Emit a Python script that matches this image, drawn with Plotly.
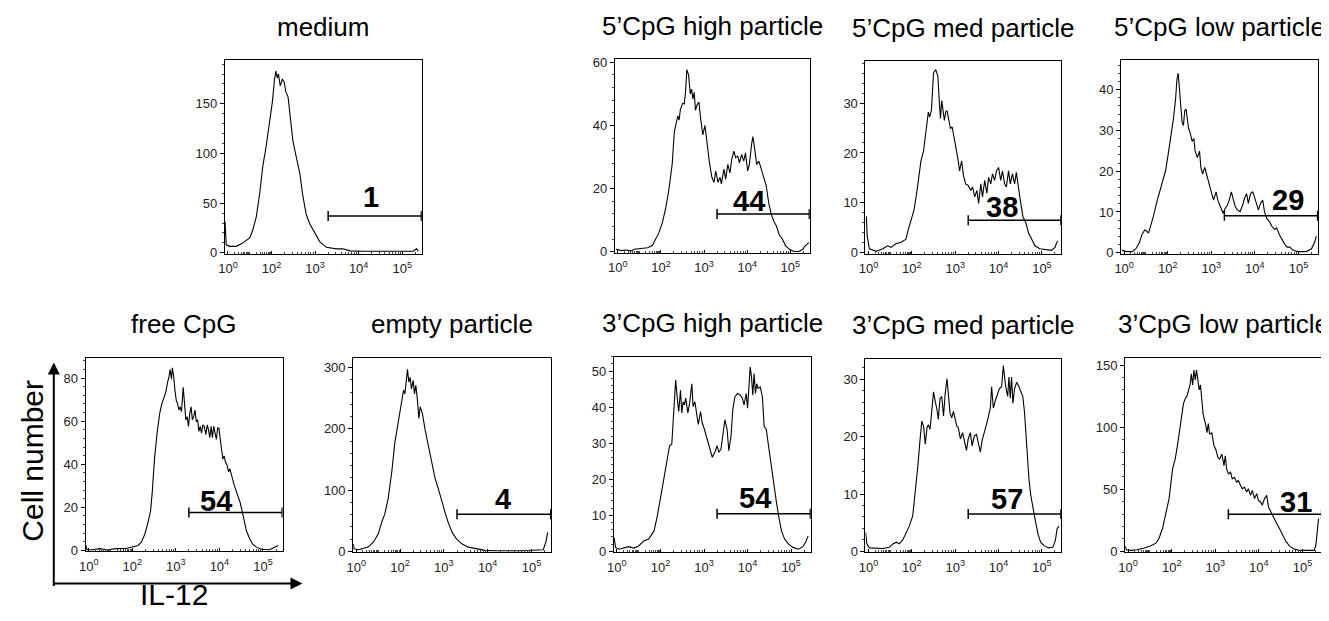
import math
import plotly.graph_objects as go

# ---------------- data (x in display-channel units of the logicle-like axis:
# 0 = 10^0, 1 = 10^2, 2 = 10^3, 3 = 10^4, 4 = 10^5) ----------------
titles = ["medium", "5’CpG high particle", "5’CpG med particle", "5’CpG low particle",
          "free CpG", "empty particle", "3’CpG high particle", "3’CpG med particle",
          "3’CpG low particle"]
gate_pct = ["1", "44", "38", "29", "54", "4", "54", "57", "31"]
gate_level = [37, 12, 6.5, 9.1, 17.6, 60.5, 10.4, 6.5, 29.8]
gate_start = [2.3, 2.3, 2.3, 2.3, 2.3, 2.3, 2.3, 2.3, 2.3]
label_x = [3.29, 3.05, 3.08, 3.76, 2.93, 3.36, 3.18, 3.2, 3.85]
x_tick_pos = [0, 1, 2, 3, 4]
x_tick_text = ["10<sup>0</sup>", "10<sup>2</sup>", "10<sup>3</sup>", "10<sup>4</sup>", "10<sup>5</sup>"]
y_top = [194, 61, 38.4, 47.2, 89.5, 316, 54, 33.6, 156]
y_dtick = [50, 20, 10, 10, 20, 100, 10, 10, 50]

medium_x = [-0.065, -0.04, 0.04, 0.19, 0.31, 0.42, 0.5, 0.57, 0.65, 0.73, 0.8, 0.88, 0.96, 1.02, 1.07, 1.1,
            1.13, 1.16, 1.2, 1.25, 1.29, 1.33, 1.38, 1.43, 1.49, 1.57, 1.65, 1.72, 1.8, 1.88, 1.99, 2.11,
            2.26, 2.49, 2.64, 2.8, 3.1, 3.87, 4.25, 4.33, 4.37]
medium_y = [31, 8, 6.5, 6.5, 9, 13, 15, 23, 36, 60, 87, 108, 131, 152, 175, 183, 176, 180, 168, 175, 172,
            162, 157, 136, 113, 96, 80, 57, 38, 29, 20, 11, 5.5, 4, 4, 2, 1.5, 1, 1.5, 4, 1.5]

h5_x = [-0.04, 0, 0.08, 0.19, 0.31, 0.38, 0.53, 0.69, 0.8, 0.88, 0.95, 1.03, 1.11, 1.18, 1.26, 1.31, 1.36,
        1.39, 1.42, 1.45, 1.5, 1.54, 1.57, 1.6, 1.64, 1.68, 1.71, 1.74, 1.77, 1.8, 1.83, 1.88, 1.92, 1.97,
        2.02, 2.06, 2.12, 2.18, 2.23, 2.27, 2.32, 2.37, 2.4, 2.46, 2.5, 2.55, 2.6, 2.64, 2.69, 2.73, 2.78,
        2.82, 2.87, 2.92, 2.96, 3.01, 3.05, 3.1, 3.13, 3.18, 3.22, 3.27, 3.31, 3.37, 3.44, 3.5, 3.56, 3.62,
        3.68, 3.74, 3.82, 3.89, 3.98, 4.08, 4.2, 4.29, 4.35, 4.43]
h5_y = [0.8, 0.6, 0.4, 0.6, 0.3, 0.8, 1, 1.3, 2, 3.9, 6, 9.1, 13.8, 19.4, 27.7, 38, 41, 43, 41.7, 45, 47,
        46.8, 50.5, 57.7, 56, 50, 51.5, 48.4, 50.5, 44.8, 46.3, 47.4, 42.2, 37, 40, 35, 28.7, 23.6, 22,
        25.6, 22, 23.6, 21.5, 26.2, 23, 27.7, 25, 29.3, 31.9, 29.8, 30.3, 28.2, 30.8, 28.7, 31.3, 25.6,
        27.7, 33.9, 36.5, 31.9, 27.7, 28.7, 26.7, 24.6, 21, 15.3, 11.7, 9.6, 8.1, 5.5, 3.9, 1.9, 0.8, 0.1,
        0.1, 0.8, 2, 2.9]

m5_x = [-0.05, -0.03, 0.02, 0.18, 0.33, 0.44, 0.52, 0.63, 0.75, 0.86, 0.92, 0.98, 1.05, 1.11, 1.17, 1.21,
        1.27, 1.31, 1.35, 1.38, 1.41, 1.45, 1.47, 1.5, 1.55, 1.6, 1.63, 1.66, 1.69, 1.72, 1.75, 1.78, 1.81,
        1.84, 1.89, 1.93, 1.98, 2.02, 2.07, 2.1, 2.15, 2.19, 2.24, 2.3, 2.36, 2.4, 2.45, 2.5, 2.54, 2.59,
        2.63, 2.68, 2.73, 2.77, 2.82, 2.86, 2.91, 2.95, 3.0, 3.05, 3.09, 3.14, 3.18, 3.23, 3.27, 3.32, 3.37,
        3.41, 3.46, 3.5, 3.56, 3.63, 3.69, 3.76, 3.84, 3.95, 4.07, 4.22, 4.3, 4.36]
m5_y = [7.3, 3.4, 0.8, 0.3, 0.8, 1.4, 1.1, 1.8, 2.1, 2.7, 4.7, 6.3, 8.6, 11.9, 15.8, 18.4, 20.4, 23, 25.6,
        28.2, 27.2, 28.5, 31.4, 36, 36.7, 35.4, 30.8, 26.9, 30.5, 28.8, 26.5, 28.2, 28.5, 27.2, 24.9, 25.2,
        23, 21.3, 18.4, 16.4, 18.4, 15.5, 13.8, 13.5, 12.5, 13.2, 11.2, 12.5, 9.9, 13.8, 11.2, 14.5, 11.9,
        15.1, 13.8, 15.8, 14.5, 16.4, 17.1, 14.5, 16.4, 13.8, 13.2, 16.4, 13.8, 15.8, 13.8, 16.1, 12.5,
        10.6, 7.3, 6, 4, 2.7, 1.4, 0.8, 0.7, 0.5, 1.1, 2.4]

l5_x = [-0.05, 0.06, 0.18, 0.27, 0.35, 0.41, 0.47, 0.52, 0.56, 0.61, 0.67, 0.75, 0.82, 0.89, 0.95, 1.01,
        1.07, 1.13, 1.18, 1.21, 1.24, 1.27, 1.3, 1.33, 1.36, 1.39, 1.42, 1.45, 1.48, 1.51, 1.56, 1.6, 1.63,
        1.68, 1.73, 1.76, 1.8, 1.85, 1.89, 1.95, 2.0, 2.05, 2.11, 2.15, 2.21, 2.27, 2.32, 2.37, 2.41, 2.46,
        2.5, 2.55, 2.6, 2.66, 2.72, 2.76, 2.81, 2.85, 2.9, 2.95, 2.99, 3.04, 3.08, 3.13, 3.18, 3.22, 3.27,
        3.33, 3.39, 3.45, 3.5, 3.56, 3.62, 3.68, 3.74, 3.8, 3.88, 3.99, 4.18, 4.3, 4.37, 4.41]
l5_y = [0.6, 0.3, 0.3, 1, 2.5, 4.5, 5.6, 5.3, 4.8, 6.5, 8.9, 12.5, 15.3, 17.7, 20.1, 24.1, 28, 32.8, 37.6,
        42.4, 44, 40, 35.2, 32, 31.2, 34.8, 35.2, 32.8, 30.4, 29.6, 27.3, 28, 24.9, 23.3, 24.9, 20.9, 19.3,
        20.9, 19.3, 16.9, 14.5, 12.9, 14.9, 12.9, 11.3, 9.7, 10.9, 11.7, 12.9, 14.9, 13.3, 11.3, 10.5, 10.1,
        11.7, 13.3, 14.5, 12.1, 14.5, 14.9, 13.7, 12.1, 10.5, 12.1, 12.9, 10.1, 8.5, 7.7, 6.5, 5.7, 6.1,
        4.5, 3.3, 2.2, 1.4, 1.4, 0.6, 0.3, 0.3, 1, 2.5, 4.1]

free_x = [-0.065, -0.04, 0.1, 0.25, 0.41, 0.64, 0.86, 1.02, 1.13, 1.21, 1.29, 1.36, 1.42, 1.46, 1.51, 1.57,
          1.63, 1.68, 1.72, 1.77, 1.81, 1.84, 1.87, 1.9, 1.92, 1.95, 1.98, 2.01, 2.04, 2.07, 2.1, 2.13, 2.17,
          2.2, 2.23, 2.26, 2.29, 2.32, 2.35, 2.38, 2.41, 2.44, 2.47, 2.5, 2.53, 2.56, 2.59, 2.62, 2.65, 2.69,
          2.72, 2.75, 2.78, 2.81, 2.84, 2.87, 2.9, 2.93, 2.96, 2.99, 3.02, 3.05, 3.08, 3.11, 3.14, 3.18,
          3.21, 3.24, 3.27, 3.3, 3.34, 3.39, 3.44, 3.48, 3.53, 3.57, 3.62, 3.68, 3.76, 3.85, 3.96, 4.15,
          4.27, 4.35]
free_y = [2.3, 0.3, 0.3, 0.8, 0.3, 0.8, 0.9, 1.8, 2.3, 3.8, 7.6, 12.9, 18.2, 27.3, 42.4, 54.5, 63.6, 68.2,
          70.5, 73.5, 78, 80.3, 84, 79.5, 84.8, 81, 74.2, 69.7, 68.2, 65.2, 66.7, 64.4, 75.8, 68.2, 60.6,
          62.1, 57.6, 63.6, 66.7, 60.6, 62.1, 65.2, 59.8, 60.6, 55.3, 57.6, 54.5, 58.3, 57.6, 53.8, 58.3,
          56.1, 52.3, 57.6, 52.3, 57.6, 53.8, 51.5, 56.8, 56.8, 51.5, 47, 42.4, 43.9, 40.9, 39.4, 36.4, 37.9,
          34.8, 33.3, 30.3, 27.3, 24.2, 22, 17.4, 13.6, 9.1, 6.1, 3, 1.5, 0.5, 0.3, 1.5, 2.3]

empty_x = [-0.065, -0.05, 0.05, 0.16, 0.27, 0.39, 0.5, 0.59, 0.65, 0.73, 0.81, 0.88, 0.94, 1.01, 1.05, 1.08,
           1.11, 1.14, 1.17, 1.2, 1.23, 1.26, 1.3, 1.33, 1.36, 1.39, 1.43, 1.46, 1.51, 1.57, 1.65, 1.72, 1.8,
           1.87, 1.95, 2.03, 2.1, 2.19, 2.29, 2.41, 2.56, 2.75, 2.94, 3.17, 3.78, 4.27, 4.33, 4.37]
empty_y = [12, 4, 2.7, 4.3, 6.9, 14.9, 28.2, 49.5, 60.2, 86.8, 129, 177, 204, 231, 247, 263, 257, 273, 297,
           276, 284, 265, 279, 257, 271, 252, 217, 236, 225, 199, 172, 145, 119, 103, 81.5, 62.9, 46.9, 30.9,
           20.2, 12.3, 6.9, 3.7, 1.6, 1, 1, 2.7, 15, 31]

h3_x = [-0.065, -0.03, 0.05, 0.16, 0.27, 0.39, 0.5, 0.62, 0.73, 0.85, 0.92, 1.0, 1.08, 1.15, 1.21, 1.26,
        1.31, 1.35, 1.39, 1.42, 1.46, 1.49, 1.52, 1.55, 1.58, 1.63, 1.67, 1.72, 1.75, 1.79, 1.84, 1.87, 1.92,
        1.96, 2.01, 2.07, 2.13, 2.19, 2.25, 2.3, 2.34, 2.39, 2.44, 2.48, 2.53, 2.57, 2.62, 2.66, 2.71, 2.77,
        2.83, 2.88, 2.92, 2.97, 3.0, 3.03, 3.06, 3.09, 3.12, 3.15, 3.18, 3.21, 3.24, 3.29, 3.34, 3.38, 3.43,
        3.47, 3.53, 3.6, 3.66, 3.72, 3.78, 3.85, 3.94, 4.04, 4.17, 4.27, 4.33, 4.39]
h3_y = [3.8, 1.1, 0.6, 0.9, 1.3, 0.9, 1.5, 2.9, 3.4, 5.6, 9.3, 14.7, 20.2, 25.6, 29.3, 29.7, 38.4, 47.5, 42,
        38.8, 44.7, 38.4, 41.5, 40.6, 42.5, 38.4, 41.1, 46.5, 40.2, 41.5, 37.5, 35.2, 38.8, 35.6, 33.8, 31.1,
        28.4, 26.1, 27.5, 29.3, 27.5, 28.4, 32.9, 36.5, 33.8, 27.9, 32, 39.3, 42.9, 43.8, 43.4, 42.5, 40.6,
        43.8, 39.7, 46.1, 51.1, 48.4, 43.4, 49.3, 43.8, 46.5, 45.2, 45.6, 42.9, 34.7, 33.8, 30.2, 24.7,
        19.3, 13.8, 9.3, 5.6, 3.4, 2, 1.1, 0.6, 1.3, 2.5, 4.3]

m3_x = [-0.065, -0.04, 0.02, 0.18, 0.33, 0.48, 0.56, 0.64, 0.71, 0.79, 0.86, 0.94, 1.02, 1.08, 1.14, 1.19,
        1.23, 1.27, 1.31, 1.35, 1.38, 1.42, 1.46, 1.5, 1.54, 1.58, 1.61, 1.65, 1.69, 1.73, 1.77, 1.81, 1.84,
        1.88, 1.92, 1.96, 2.0, 2.04, 2.07, 2.12, 2.17, 2.21, 2.26, 2.3, 2.35, 2.39, 2.44, 2.49, 2.53, 2.58,
        2.62, 2.67, 2.72, 2.76, 2.81, 2.84, 2.88, 2.93, 2.98, 3.02, 3.07, 3.11, 3.16, 3.21, 3.24, 3.27, 3.3,
        3.33, 3.37, 3.42, 3.47, 3.51, 3.56, 3.6, 3.65, 3.7, 3.74, 3.79, 3.85, 3.91, 3.97, 4.05, 4.15, 4.25,
        4.31, 4.35, 4.39]
m3_y = [3.3, 1.3, 0.6, 0.5, 0.5, 0.7, 1.3, 1.6, 1.3, 2, 3.1, 4.4, 6.2, 10.4, 15, 19.6, 22.7, 21.8, 18.7,
        21.6, 22.1, 21.3, 24.1, 27.8, 26.1, 24.7, 23, 26.7, 27, 23.6, 27.6, 30.1, 27.6, 24.1, 23.3, 24.4, 23,
        21.8, 21.6, 19.6, 20.7, 19.3, 17.6, 19.6, 20.7, 18.4, 20.1, 20.4, 19, 17.3, 19.3, 21, 22.1, 23.3,
        25, 28.7, 25, 26.4, 27.6, 28.4, 28.7, 32.4, 29, 27, 30.4, 26.7, 30.4, 25.8, 28.4, 29.5, 28.7, 27.8,
        27, 24.1, 17.9, 12.7, 9.9, 7.6, 5.3, 3, 1.6, 1, 0.6, 0.7, 1.9, 3.9, 4.4]

l3_x = [-0.065, -0.04, 0.06, 0.21, 0.37, 0.52, 0.64, 0.71, 0.79, 0.86, 0.94, 1.02, 1.08, 1.13, 1.19, 1.23,
        1.27, 1.31, 1.35, 1.38, 1.42, 1.45, 1.48, 1.51, 1.54, 1.57, 1.6, 1.63, 1.66, 1.69, 1.72, 1.75, 1.78,
        1.81, 1.84, 1.87, 1.92, 1.97, 2.01, 2.06, 2.1, 2.15, 2.2, 2.23, 2.26, 2.3, 2.35, 2.39, 2.44, 2.49,
        2.53, 2.58, 2.62, 2.67, 2.72, 2.76, 2.81, 2.85, 2.9, 2.95, 2.99, 3.04, 3.08, 3.13, 3.18, 3.22, 3.27,
        3.33, 3.39, 3.47, 3.54, 3.62, 3.71, 3.81, 3.92, 4.12, 4.27, 4.31, 4.34, 4.37]
l3_y = [4, 1.3, 0.8, 1.3, 2.7, 4.5, 6.6, 10.6, 18.6, 29.2, 42.5, 66.4, 74.3, 85, 101, 111, 119, 123, 125,
        129, 134, 143, 134, 146, 138, 146, 137, 130, 134, 122, 111, 106, 102, 95.6, 103, 94.2, 95.6, 85,
        82.3, 75.7, 74.3, 78.3, 69, 77, 66.4, 62.4, 63.7, 58.4, 59.7, 55.7, 57.1, 53.1, 50.4, 51.8, 47.8,
        50.4, 45.1, 49.1, 42.5, 46.5, 41.1, 39.8, 37.2, 42.5, 45.1, 35.8, 31.9, 27.9, 23.9, 18.6, 13.3, 8,
        4, 1.9, 0.8, 0.5, 0.8, 5.3, 15.9, 26.5]

series_x = [medium_x, h5_x, m5_x, l5_x, free_x, empty_x, h3_x, m3_x, l3_x]
series_y = [medium_y, h5_y, m5_y, l5_y, free_y, empty_y, h3_y, m3_y, l3_y]
for sx, sy in zip(series_x, series_y):
    assert len(sx) == len(sy)

# ---------------- layout (pixels in the 1329x621 page) ----------------
OFF = 8                       # default body margin of the html page
W, H = 1329 - OFF, 621 - OFF  # figure size so that it fits in the window


def px(xp):
    return (xp - OFF) / W


def py(yp):
    return 1 - (yp - OFF) / H


boxes = [  # left, right, top, bottom of each plot frame (page pixels)
    (219, 417, 57, 254), (611, 807, 56, 253), (863, 1060, 58, 254), (1120, 1318, 57, 254),
    (79, 277, 360, 557), (348, 547, 360, 558), (610, 808, 359, 558), (863, 1060, 361, 558),
    (1124, 1322, 360, 558),
]
label_shift = [19, 13, 13.5, 16, 11.5, 15, 16, 15.5, 12]
X_RANGE = [-0.07, 4.45]
X_END = 4.44
FONT = "Liberation Sans, Arial, Helvetica, sans-serif"

# minor tick positions on the logicle-like axis
minor_x = []
for v in list(range(2, 10)) + [10 * k for k in range(1, 10)]:
    minor_x.append(math.log10(v) / 2)
for d in (2, 3, 4, 5):
    for k in range(2, 10):
        p = math.log10(k * 10 ** d) - 1
        if p < X_RANGE[1]:
            minor_x.append(p)

fig = go.Figure()
layout = dict(
    width=W, height=H, margin=dict(l=0, r=0, t=0, b=0),
    paper_bgcolor="white", plot_bgcolor="white", showlegend=False,
    font=dict(family=FONT, color="black"),
)
annotations = []
shapes = []

for i in range(9):
    n = i + 1
    xs = "" if n == 1 else str(n)
    xa, ya = "x" + xs, "y" + xs
    l, r, t, b = boxes[i]
    fig.add_trace(go.Scatter(
        x=series_x[i], y=series_y[i], mode="lines",
        line=dict(color="black", width=1.1), xaxis=xa, yaxis=ya, hoverinfo="skip",
    ))
    layout["xaxis" + xs] = dict(
        domain=[px(l), px(r)], anchor=ya, range=X_RANGE,
        tickmode="array", tickvals=x_tick_pos, ticktext=x_tick_text,
        ticks="inside", ticklen=3, tickcolor="black", tickwidth=1, ticklabelstandoff=3,
        tickfont=dict(size=13, color="#222", family=FONT),
        showline=True, mirror=True, linecolor="black", linewidth=1,
        showgrid=False, zeroline=False, fixedrange=True,
        minor=dict(tickmode="array", tickvals=minor_x, ticks="inside", ticklen=2,
                   tickcolor="#444", tickwidth=1, showgrid=False),
    )
    layout["yaxis" + xs] = dict(
        domain=[py(b), py(t)], anchor=xa, range=[-0.004 * y_top[i], y_top[i]],
        dtick=y_dtick[i], tick0=0, ticks="outside", ticklen=4, tickcolor="black", tickwidth=1,
        tickfont=dict(size=13, color="#222", family=FONT),
        showline=True, mirror=True, linecolor="black", linewidth=1,
        showgrid=False, zeroline=False, fixedrange=True,
        minor=dict(dtick=y_dtick[i] / 5, ticks="outside", ticklen=2, tickcolor="#444",
                   showgrid=False),
    )
    # panel title
    annotations.append(dict(
        xref="paper", yref="paper", x=px((l + r) / 2), y=py(t - 34),
        text=titles[i], showarrow=False, xanchor="center", yanchor="middle",
        font=dict(size=26, color="black", family=FONT),
    ))
    # gate
    g = gate_level[i]
    shapes.append(dict(type="line", xref=xa, yref=ya, x0=gate_start[i], x1=X_END, y0=g, y1=g,
                       line=dict(color="black", width=1.5)))
    for gx in (gate_start[i], X_END):
        shapes.append(dict(type="line", xref=xa, yref=ya, x0=gx, x1=gx,
                           ysizemode="pixel", yanchor=g, y0=-5, y1=5,
                           line=dict(color="black", width=1.5)))
    annotations.append(dict(
        xref=xa, yref=ya, x=label_x[i], y=g, yshift=label_shift[i],
        text="<b>" + gate_pct[i] + "</b>", showarrow=False, xanchor="center", yanchor="middle",
        font=dict(size=29, color="black", family=FONT),
    ))

# axis legend: arrows and labels
annotations.append(dict(xref="paper", yref="paper", x=px(47), y=py(365), ax=0, ay=225,
                        text="", showarrow=True, arrowhead=2, arrowsize=1.2, arrowwidth=2,
                        arrowcolor="black"))
annotations.append(dict(xref="paper", yref="paper", x=px(297), y=py(590), ax=-250, ay=0,
                        text="", showarrow=True, arrowhead=2, arrowsize=1.2, arrowwidth=2,
                        arrowcolor="black"))
annotations.append(dict(xref="paper", yref="paper", x=px(26), y=py(465), text="Cell number",
                        textangle=-90, showarrow=False, xanchor="center", yanchor="middle",
                        font=dict(size=30, color="black", family=FONT)))
annotations.append(dict(xref="paper", yref="paper", x=px(168), y=py(601), text="IL-12",
                        showarrow=False, xanchor="center", yanchor="middle",
                        font=dict(size=30, color="black", family=FONT)))

layout["annotations"] = annotations
layout["shapes"] = shapes
fig.update_layout(**layout)
fig.write_html("out.html")
